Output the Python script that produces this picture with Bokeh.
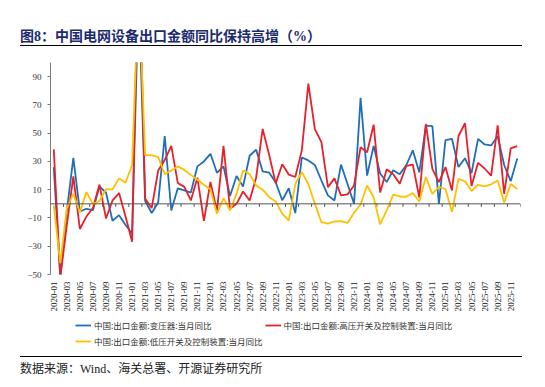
import numpy as np
from bokeh.plotting import figure
from bokeh.models import Range1d, FixedTicker, Legend, LegendItem, Span, ColumnDataSource, Div
from bokeh.layouts import column
from bokeh.embed import file_html
from bokeh.resources import INLINE

# ---------------- data ----------------
months = [f"{y}-{m:02d}" for y in range(2020, 2026) for m in range(1, 13)]

transformer = [
    26, -52, -5, 32.5, -5.4, -3.5, -4.5, 12.3, 8, -12, -8, -15,
    -21, 150, 2, -6.5, 1, 48, -4.7, 11, 9.5, 8, 26.5, 30,
    35.4, 22, 26.5, 5.5, 19.7, 12.3, 34, 38.3, 23, 22, 15.2, 2.5,
    11, -6.5, 32.8, 30.7, 27.5, 16.5, 6, 2.4, 27.8, 14, 0, 75,
    20, 41, 21.5, 15.4, 23.8, 21, 27.3, 37.9, 22.2, 55.3, 55, 0,
    45, 46, 26, 32.3, 21.8, 46, 42, 41.3, 47.8, 27.5, 16, 32,
]
hv_switch = [
    38.5, -52, -15, 19.4, -17.8, -9, -3, 13.6, -10.3, 2.4, 7.6, -9,
    -26.8, 185, 3.5, -3, 23.6, 31, 41, 14.8, 12, 2.4, 18.5, -12,
    15.5, -5, 41, -3.5, 0, 8.7, 2.4, 18.5, 53, 34.5, 14.5, 28,
    20.7, 19, 37.8, 85, 52.8, 43.7, 11.8, 18, 6, 6.7, 13, 40,
    36.5, 56, 8, 24.5, 21, 14.3, 26.8, 27.8, 4.4, 56.5, 24.8, 15.3,
    26, 9.5, 48, 57, 12.6, 29, 25, 20, 55.5, 7, 39.3, 40.8,
]
lv_switch = [
    -1, -42, -3, 7, -6, 8.3, 0, 2, 10.3, 10.3, 18, 15,
    27.5, 155, 34.5, 34.5, 33, 21, 23.5, 26.5, 24, 20.5, 17, 13.5,
    10.3, -7, 4, -4.7, 7, 23.6, 21, 13, 10, 4.7, 1.7, -7,
    -11.8, 14, 22.4, 14, 0, -13, -14, -12.5, -12.3, -13.5, -6.4, -0.5,
    13, 4.7, -14.5, -4.7, 6.5, 5.2, 5, 7.7, 1.7, 19, 7, 12,
    10.5, -5.7, 17.7, 16, 9, 13.5, 12.4, 13.8, 16.5, 1, 14, 10.5,
]
series_names = [
    "中国:出口金额:变压器:当月同比",
    "中国:出口金额:高压开关及控制装置:当月同比",
    "中国:出口金额:低压开关及控制装置:当月同比",
]
y_ticks = [-50, -30, -10, 10, 30, 50, 70, 90]
title_text = "图8：中国电网设备出口金额同比保持高增（%）"
source_text = "数据来源：Wind、海关总署、开源证券研究所"

BLUE = "#1f6fb8"
RED = "#e8202a"
YELLOW = "#ffc000"
SERIF_CJK = "'Liberation Serif', 'Noto Sans CJK SC'"
CJK = "'Noto Sans CJK SC'"
COLORS = [BLUE, RED, YELLOW]

n = len(months)
idx = list(range(n))
src = ColumnDataSource(dict(x=idx, t=transformer, h=hv_switch, l=lv_switch))

# ---------------- title strip ----------------
title_html = (
    '<div style="position:relative;width:540px;height:50px;">'
    '<div style="position:absolute;left:20px;top:28px;white-space:nowrap;'
    "font-family:'Liberation Serif','Noto Sans CJK SC';font-weight:bold;font-size:14px;"
    'line-height:18px;color:#1c2a6e;">' + title_text + '</div>'
    '<div style="position:absolute;left:20px;top:45px;width:502px;height:0;'
    'border-top:1.4px solid #000;"></div></div>'
)
title_div = Div(text=title_html, width=540, height=50, margin=(0, 0, 0, 0))

# ---------------- main chart ----------------
p = figure(width=540, height=268, x_range=Range1d(-0.5, n - 0.5), y_range=Range1d(-50, 100),
           output_backend="svg", toolbar_location=None,
           min_border_left=50, min_border_right=20, min_border_top=12, min_border_bottom=44,
           margin=(0, 0, 0, 0))
p.outline_line_color = None
p.grid.visible = False

# y axis
p.yaxis.ticker = FixedTicker(ticks=y_ticks)
p.yaxis.axis_line_color = "#7a7a7a"
p.yaxis.major_tick_line_color = "#7a7a7a"
p.yaxis.major_tick_out = 3
p.yaxis.major_tick_in = 0
p.yaxis.minor_tick_line_color = None
p.yaxis.major_label_standoff = 6
p.yaxis.major_label_text_font = SERIF_CJK
p.yaxis.major_label_text_font_size = "9px"
p.yaxis.major_label_text_color = "#333333"

# x axis (labels only)
even = list(range(0, n, 2))
p.xaxis.ticker = FixedTicker(ticks=even)
p.xaxis.major_label_overrides = {i: months[i] for i in even}
p.xaxis.major_label_orientation = np.pi / 2
p.xaxis.axis_line_color = None
p.xaxis.major_tick_line_color = None
p.xaxis.minor_tick_line_color = None
p.xaxis.major_tick_out = 0
p.xaxis.major_tick_in = 0
p.xaxis.major_label_standoff = 7
p.xaxis.major_label_text_font = SERIF_CJK
p.xaxis.major_label_text_font_size = "9px"
p.xaxis.major_label_text_color = "#222222"

# zero line with tick marks between two-month groups
p.add_layout(Span(location=0, dimension="width", line_color="#555555", line_width=1))
bounds = [i + 1.5 for i in even]
p.segment(x0=bounds, y0=[0] * len(bounds), x1=bounds, y1=[-2.2] * len(bounds),
          line_color="#555555", line_width=1)

p.line("x", "t", source=src, line_color=BLUE, line_width=1.8)
p.line("x", "h", source=src, line_color=RED, line_width=1.8)
p.line("x", "l", source=src, line_color=YELLOW, line_width=1.8)

# ---------------- legend strip ----------------
lf = figure(width=540, height=32, x_range=Range1d(0, 1), y_range=Range1d(0, 1),
            x_axis_type=None, y_axis_type=None, toolbar_location=None,
            output_backend="svg", min_border_left=50, min_border_right=20,
            min_border_top=0, min_border_bottom=0, outline_line_color=None,
            margin=(0, 0, 0, 0))
lf.grid.visible = False
lr = [lf.line(x=[np.nan, np.nan], y=[np.nan, np.nan], line_color=c, line_width=1.8)
      for c in COLORS]
legend = Legend(items=[LegendItem(label=nm, renderers=[r]) for nm, r in zip(series_names, lr)],
                location=(25, 2), orientation="horizontal", ncols=2,
                glyph_width=16, glyph_height=14, label_height=14,
                label_standoff=3, spacing=2, padding=0, margin=0,
                border_line_color=None, background_fill_alpha=0,
                label_text_font=CJK, label_text_font_size="8.5px",
                label_text_color="#333333")
lf.add_layout(legend)

# ---------------- source strip ----------------
source_html = (
    '<div style="position:relative;width:540px;height:30px;">'
    '<div style="position:absolute;left:20px;top:6px;width:502px;height:0;'
    'border-top:1.4px solid #000;"></div>'
    '<div style="position:absolute;left:20px;top:11px;white-space:nowrap;'
    "font-family:'Liberation Serif','Noto Sans CJK SC';font-size:12px;"
    'line-height:16px;color:#222;">' + source_text + '</div></div>'
)
source_div = Div(text=source_html, width=540, height=30, margin=(0, 0, 0, 0))

layout = column(title_div, p, lf, source_div, spacing=0)
open("out.html", "w").write(file_html(layout, INLINE))
